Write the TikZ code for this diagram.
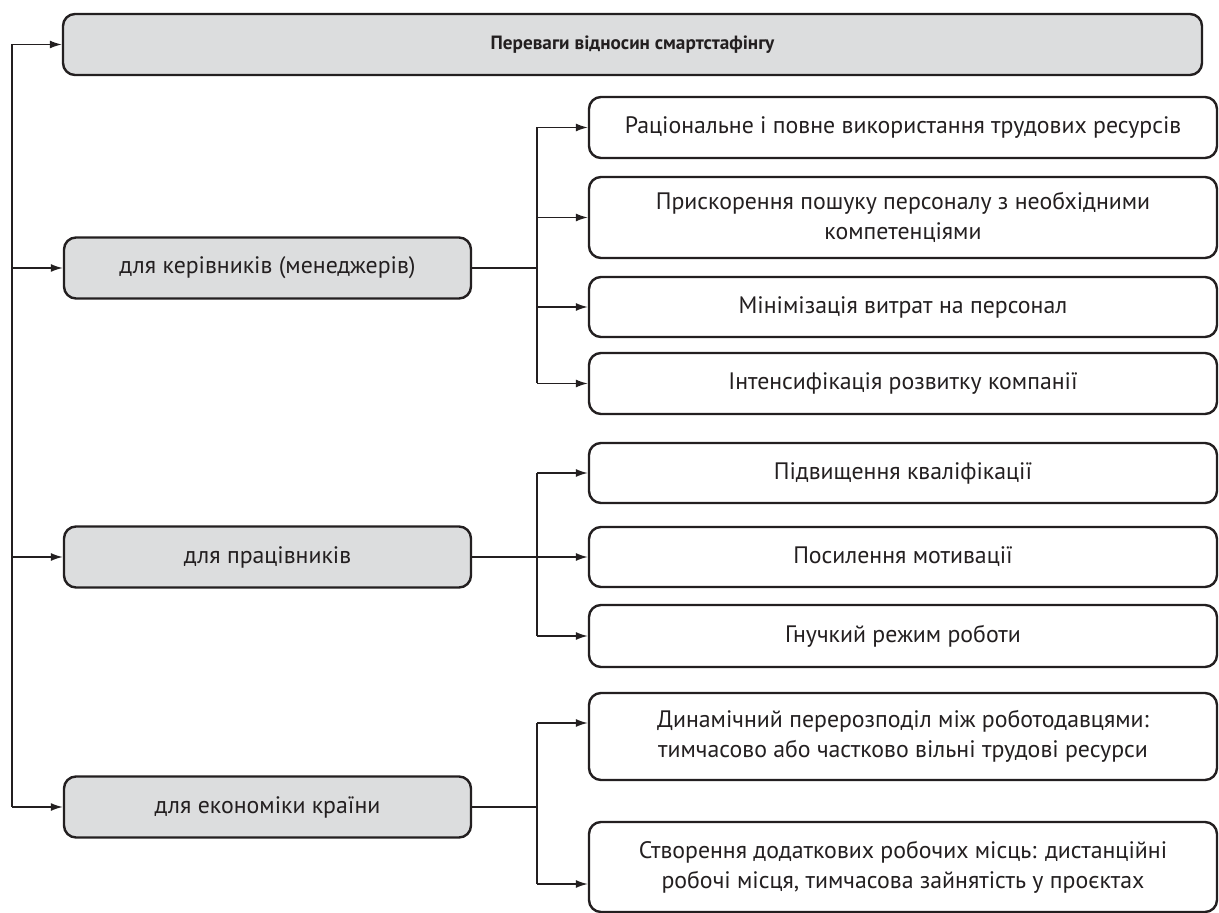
\documentclass[tikz,border=0pt]{standalone}
\usepackage{fontspec}
\setmainfont{PT Sans}
\usepackage{tikz}
\usetikzlibrary{positioning, calc, arrows.meta}
\definecolor{boxgray}{HTML}{DCDDDE}
\definecolor{ink}{HTML}{231F20}

\begin{document}
\begin{tikzpicture}[x=0.5pt, y=-0.5pt,
	every node/.style={font=\fontsize{11.9}{15}\selectfont, text=ink},
	box/.style={draw=ink, line width=1.2pt, rounded corners=6pt, align=center, inner sep=0pt},
	gbox/.style={box, fill=boxgray, minimum width=203.5pt, minimum height=30.5pt},
	wbox/.style={box, fill=white, minimum width=314pt},
	link/.style={draw=ink, line width=0.7pt},
	arr/.style={link, -{Latex[length=6pt, width=4pt]}}]
	\useasboundingbox (0,0) rectangle (1219,913);
	
	% top row
	\node [box, fill=boxgray, minimum width=569.5pt, minimum height=30.5pt, font=\fontsize{9.6}{12}\selectfont\bfseries] (top) at (632.5,44.5) {Переваги відносин смартстафінгу};
	
	% groups
	\node [gbox] (mgr) at (267.5,268) {для керівників (менеджерів)};
	\node [gbox] (wrk) at (267.5,557) {для працівників};
	\node [gbox] (eco) at (267.5,807) {для економіки країни};
	
	% benefits
	\node [wbox, minimum height=30.5pt] (b1) at (903,127.5) {Раціональне і повне використання трудових ресурсів};
	\node [wbox, minimum height=40.5pt] (b2) at (903,217.5) {Прискорення пошуку персоналу з необхідними\\компетенціями};
	\node [wbox, minimum height=30pt] (b3) at (903,307) {Мінімізація витрат на персонал};
	\node [wbox, minimum height=30.5pt] (b4) at (903,383.5) {Інтенсифікація розвитку компанії};
	\node [wbox, minimum height=30pt] (b5) at (903,473) {Підвищення кваліфікації};
	\node [wbox, minimum height=30pt] (b6) at (903,557) {Посилення мотивації};
	\node [wbox, minimum height=31pt] (b7) at (903,636) {Гнучкий режим роботи};
	\node [wbox, minimum height=43.5pt] (b8) at (903,736.5) {Динамічний перерозподіл між роботодавцями:\\тимчасово або частково вільні трудові ресурси};
	\node [wbox, minimum height=45pt] (b9) at (903,867) {Створення додаткових робочих місць: дистанційні\\робочі місця, тимчасова зайнятість у проєктах};
	
	% left trunk
	\coordinate (L) at (12,44.5);
	\draw [link] (L |- top) -- (L |- eco);
	\foreach \n in {top, mgr, wrk, eco}
		\draw [arr] (L |- \n) -- (\n.west);
	
	% branches
	\coordinate (J) at (537,0);
	\draw [link] (mgr.east) -- (J |- mgr);
	\draw [link] (J |- b1) -- (J |- b4);
	\foreach \n in {b1, b2, b3, b4}
		\draw [arr] (J |- \n) -- (\n.west);
	
	\draw [link] (wrk.east) -- (J |- wrk);
	\draw [link] (J |- b5) -- (J |- b7);
	\foreach \n in {b5, b6, b7}
		\draw [arr] (J |- \n) -- (\n.west);
	
	\coordinate (a8) at ([yshift=6.75pt]b8.west);
	\coordinate (a9) at ([yshift=-8.5pt]b9.west);
	\draw [link] (eco.east) -- (J |- eco);
	\draw [link] (J |- a8) -- (J |- a9);
	\foreach \n in {a8, a9}
		\draw [arr] (J |- \n) -- (\n);
\end{tikzpicture}
\end{document}
